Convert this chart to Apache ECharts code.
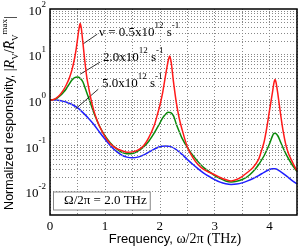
<!DOCTYPE html>
<html><head><meta charset="utf-8">
<script src="https://cdn.jsdelivr.net/npm/echarts@6/dist/echarts.min.js"></script>
<style>html,body{margin:0;padding:0;background:#fff}#c{width:300px;height:248px}</style>
</head><body><div id="c"></div>
<script>
// nu = 0.5e12 s^-1 (red)
const redF = [0,0.05,0.1,0.15,0.2,0.25,0.3,0.35,0.4,0.45,0.48,0.5,0.52,0.54,0.55,0.57,0.6,0.63,0.67,0.7,0.75,0.8,0.85,0.9,1.0,1.1,1.2,1.3,1.4,1.5,1.6,1.7,1.8,1.9,1.95,2.0,2.05,2.1,2.15,2.18,2.21,2.25,2.3,2.35,2.4,2.5,2.6,2.7,2.8,2.9,3.0,3.1,3.2,3.3,3.4,3.5,3.6,3.7,3.8,3.85,3.9,3.95,4.0,4.05,4.08,4.1,4.12,4.15,4.2,4.25,4.3,4.35,4.4,4.45,4.5];
const redV = [1.0,1.02,1.08,1.2,1.4,1.7,2.2,3.0,4.6,8.5,14,21,32,44,48,38,18,8,3.2,2.0,1.0,0.58,0.38,0.27,0.16,0.11,0.088,0.078,0.072,0.073,0.08,0.098,0.15,0.28,0.45,0.75,1.4,3.2,7,9.3,6.5,2.5,0.9,0.42,0.24,0.095,0.055,0.038,0.03,0.026,0.023,0.02,0.018,0.0168,0.018,0.021,0.026,0.033,0.05,0.075,0.12,0.25,0.6,1.4,2.4,2.85,2.4,1.4,0.5,0.2,0.1,0.065,0.048,0.036,0.028];
// nu = 2.0e12 s^-1 (green)
const greenF = [0,0.1,0.2,0.25,0.3,0.35,0.4,0.45,0.5,0.55,0.6,0.65,0.7,0.75,0.8,0.9,1.0,1.1,1.2,1.3,1.4,1.5,1.6,1.7,1.8,1.9,2.0,2.05,2.1,2.15,2.2,2.25,2.3,2.35,2.4,2.5,2.6,2.7,2.8,2.9,3.0,3.1,3.2,3.3,3.4,3.5,3.6,3.7,3.8,3.9,3.95,4.0,4.05,4.08,4.1,4.15,4.2,4.3,4.4,4.5];
const greenV = [1.0,1.05,1.3,1.5,1.8,2.25,2.75,3.1,3.2,3.0,2.5,1.7,1.15,0.78,0.52,0.27,0.165,0.115,0.088,0.072,0.066,0.067,0.076,0.093,0.125,0.19,0.31,0.4,0.48,0.54,0.53,0.45,0.3,0.21,0.15,0.092,0.062,0.044,0.033,0.027,0.022,0.019,0.0168,0.016,0.0165,0.018,0.021,0.027,0.038,0.06,0.08,0.11,0.16,0.185,0.186,0.165,0.12,0.065,0.04,0.027];
// nu = 5.0e12 s^-1 (blue)
const blueF = [0,0.1,0.2,0.3,0.4,0.5,0.6,0.7,0.8,0.9,1.0,1.1,1.2,1.3,1.4,1.5,1.6,1.7,1.8,1.9,2.0,2.1,2.2,2.3,2.4,2.5,2.6,2.7,2.8,2.9,3.0,3.1,3.2,3.3,3.4,3.5,3.6,3.7,3.8,3.9,4.0,4.05,4.1,4.2,4.3,4.4,4.5];
const blueV = [1.0,1.0,0.97,0.9,0.8,0.68,0.53,0.4,0.29,0.2,0.14,0.1,0.077,0.063,0.056,0.054,0.056,0.062,0.072,0.084,0.095,0.098,0.095,0.082,0.065,0.05,0.039,0.031,0.025,0.021,0.018,0.0158,0.0146,0.0141,0.0143,0.0152,0.0168,0.019,0.022,0.026,0.03,0.031,0.031,0.027,0.022,0.0175,0.0145];

const yLabelValues = [0.01, 0.1, 1, 10, 100];
const xLabelValues = [0, 1, 2, 3, 4];
const gridMultipliers = [1,2,3,4,5,6,7,8,9];
const gridDecades = [0.001, 0.01, 0.1, 1, 10];

const Y_MIN = 0.003, Y_MAX = 100;
const hGrid = [];
gridDecades.forEach(d => gridMultipliers.forEach(m => {
  const v = +(m * d).toPrecision(6);
  if (v > Y_MIN * 1.0001 && v < Y_MAX * 0.9999) hGrid.push(v);
}));

const zip = (a, b) => a.map((x, i) => [x, b[i]]);
const SERIF = 'Liberation Serif';
const dot = [1, 2];

const chart = echarts.init(document.getElementById('c'), null, {renderer: 'canvas'});
chart.setOption({
  animation: false,
  backgroundColor: '#fff',
  grid: {left: 50, top: 8, width: 248, height: 207, show: true, borderColor: '#000', borderWidth: 1.5, backgroundColor: 'transparent', z: 10},
  xAxis: {
    type: 'value', min: 0, max: 4.5, interval: 0.5,
    axisLine: {show: false}, axisTick: {show: false},
    splitLine: {show: true, lineStyle: {color: '#888', width: 1, type: dot}},
    axisLabel: {
      fontFamily: SERIF, fontSize: 13, color: '#000', margin: 5,
      formatter: v => xLabelValues.some(t => Math.abs(t - v) < 1e-9) ? String(v) : ''
    }
  },
  yAxis: {
    type: 'log', logBase: 10, min: Y_MIN, max: Y_MAX,
    axisLine: {show: false}, axisTick: {show: false},
    splitLine: {show: false},
    axisLabel: {
      margin: 4,
      customValues: yLabelValues,
      formatter: v => {
        const e = Math.log10(v);
        if (Math.abs(e - Math.round(e)) > 1e-6) return '';
        return '{b|10}{e|' + Math.round(e) + '}';
      },
      rich: {
        b: {fontFamily: SERIF, fontSize: 13, color: '#000', verticalAlign: 'bottom', lineHeight: 18},
        e: {fontFamily: SERIF, fontSize: 9, color: '#000', verticalAlign: 'top', lineHeight: 18}
      }
    }
  },
  series: [
    {
      type: 'line', data: [[0, 1]], showSymbol: false, lineStyle: {opacity: 0}, z: 1, silent: true,
      markLine: {
        silent: true, symbol: 'none', label: {show: false},
        lineStyle: {color: '#888', width: 1, type: dot},
        data: hGrid.map(v => ({yAxis: v}))
      }
    },
    {
      type: 'line', data: [[0, 1]], showSymbol: false, lineStyle: {opacity: 0}, z: 6, silent: true,
      markLine: {
        silent: true, symbol: 'none', label: {show: false},
        lineStyle: {color: '#000', width: 0.8, type: 'solid'},
        data: [
          [{coord: [0.6, 17]}, {coord: [0.86, 28]}],
          [{coord: [0.55, 3.7]}, {coord: [0.91, 6.8]}],
          [{coord: [0.46, 0.63]}, {coord: [0.88, 1.74]}]
        ]
      }
    },
    {type: 'line', name: 'b', data: zip(blueF, blueV), showSymbol: false, smooth: 0.25, lineStyle: {color: '#1f1fff', width: 1.5}, z: 3},
    {type: 'line', name: 'g', data: zip(greenF, greenV), showSymbol: false, smooth: 0.25, lineStyle: {color: '#0a8a0a', width: 1.5}, z: 4},
    {type: 'line', name: 'r', data: zip(redF, redV), showSymbol: false, smooth: 0.25, lineStyle: {color: '#ff1a1a', width: 1.5}, z: 5}
  ],
  graphic: [
    {type: 'text', x: 99, y: 30, z: 20, style: {
      text: '{n|ν = 0.5x10}{s|12}{n| s}{s|-1}', textVerticalAlign: 'middle',
      rich: {n: {fontFamily: SERIF, fontSize: 13, fill: '#000', verticalAlign: 'bottom', lineHeight: 18}, s: {fontFamily: SERIF, fontSize: 9, fill: '#000', verticalAlign: 'top', lineHeight: 18}}
    }},
    {type: 'text', x: 103, y: 55, z: 20, style: {
      text: '{n|2.0x10}{s|12}{n| s}{s|-1}', textVerticalAlign: 'middle',
      rich: {n: {fontFamily: SERIF, fontSize: 13, fill: '#000', verticalAlign: 'bottom', lineHeight: 18}, s: {fontFamily: SERIF, fontSize: 9, fill: '#000', verticalAlign: 'top', lineHeight: 18}}
    }},
    {type: 'text', x: 102, y: 81, z: 20, style: {
      text: '{n|5.0x10}{s|12}{n| s}{s|-1}', textVerticalAlign: 'middle',
      rich: {n: {fontFamily: SERIF, fontSize: 13, fill: '#000', verticalAlign: 'bottom', lineHeight: 18}, s: {fontFamily: SERIF, fontSize: 9, fill: '#000', verticalAlign: 'top', lineHeight: 18}}
    }},
    {type: 'text', x: 54, y: 201, z: 20, style: {
      text: 'Ω/2π = 2.0 THz', fontFamily: SERIF, fontSize: 13, fill: '#000', textVerticalAlign: 'middle',
      backgroundColor: '#fff', borderColor: '#888', borderWidth: 1, borderType: dot, padding: [2, 3, 2, 10]
    }},
    {type: 'text', x: 175, y: 239, z: 20, style: {
      text: '{a|Frequency, }{m|ω/2π (THz)}', textAlign: 'center', textVerticalAlign: 'middle',
      rich: {a: {fontFamily: 'Liberation Sans', fontSize: 13, fill: '#000'}, m: {fontFamily: SERIF, fontSize: 14, fill: '#000'}}
    }},
    {type: 'text', x: 10, y: 113, rotation: Math.PI / 2, z: 20, style: {
      text: '{a|Normalized responsivity, }{m||}{i|R}{sub|V}{m|/}{i|R̄}{sub|V}{sup|max}{m||}',
      textAlign: 'center', textVerticalAlign: 'middle',
      rich: {
        a: {fontFamily: 'Liberation Sans', fontSize: 12.5, fill: '#000', verticalAlign: 'middle', lineHeight: 20},
        m: {fontFamily: SERIF, fontSize: 14, fill: '#000', verticalAlign: 'middle', lineHeight: 20},
        i: {fontFamily: SERIF, fontStyle: 'italic', fontSize: 14, fill: '#000', verticalAlign: 'middle', lineHeight: 20},
        sub: {fontFamily: SERIF, fontSize: 9, fill: '#000', verticalAlign: 'bottom', lineHeight: 20},
        sup: {fontFamily: SERIF, fontSize: 9, fill: '#000', verticalAlign: 'top', lineHeight: 20}
      }
    }}
  ]
});
</script></body></html>
